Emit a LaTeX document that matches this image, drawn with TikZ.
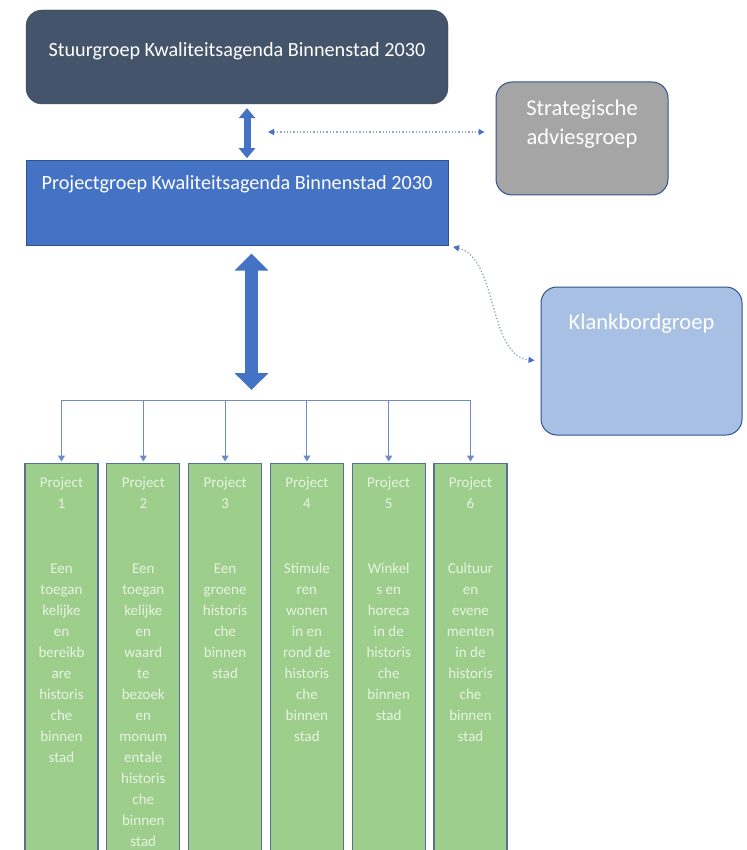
\documentclass[tikz,border=0pt]{standalone}
\usepackage{fontspec}
\setmainfont{Carlito}
\usetikzlibrary{arrows.meta, positioning, calc}
\definecolor{cNavy}{RGB}{68,84,106}
\definecolor{cBlue}{RGB}{68,114,196}
\definecolor{cEdge}{RGB}{47,82,143}
\definecolor{cGrey}{RGB}{165,165,165}
\definecolor{cLight}{RGB}{168,192,228}
\definecolor{cGreen}{RGB}{158,206,140}
\definecolor{cFrame}{RGB}{88,112,150}
\definecolor{cLine}{RGB}{108,140,198}
\definecolor{cDots}{RGB}{150,165,195}
\tikzset{
	stuurbox/.style={rectangle, rounded corners=16pt, minimum width=422pt, minimum height=94pt, draw=cNavy!80!black, fill=cNavy, text=white, text height=14pt, text depth=15pt, font=\fontsize{20.2}{24}\selectfont},
	projbox/.style ={rectangle, minimum width=422pt, minimum height=85pt, draw=cEdge, fill=cBlue, text=white, text height=14pt, text depth=40pt, font=\fontsize{20.2}{24}\selectfont},
	advbox/.style  ={rectangle, rounded corners=16pt, align=center, draw=cEdge, line width=1pt, text=white, font=\fontsize{22.5}{29}\selectfont},
	pbox/.style    ={rectangle, anchor=north, inner sep=0pt, minimum width=73pt, draw=cFrame, line width=1.2pt, fill=cGreen, text=cGreen!25!white, font=\fontsize{15}{21}\selectfont},
	blockarrow/.style={cBlue, line width=7pt, {Triangle[length=10pt, width=16pt]}-{Triangle[length=10pt, width=16pt]}},
	bigarrow/.style={cBlue, line width=13pt, {Triangle[length=17pt, width=33pt]}-{Triangle[length=17pt, width=33pt]}},
	dotarrow/.style={cDots, line width=1.3pt, dotted, {Triangle[length=6pt, width=6pt, fill=cBlue, color=cBlue]}-{Triangle[length=6pt, width=6pt, fill=cBlue, color=cBlue]}},
	treeline/.style={cLine, line width=1pt},
	treearrow/.style={treeline, -{Triangle[length=6pt, width=7pt]}},
}

\begin{document}
\begin{tikzpicture}[x=1pt, y=-1pt]
	\useasboundingbox[fill=white] (0,0) rectangle (746,850);
	% governance
	\node[stuurbox] (stuur) at (237,57) {Stuurgroep Kwaliteitsagenda Binnenstad 2030};
	\node[projbox, below=56pt of stuur] (proj) {Projectgroep Kwaliteitsagenda Binnenstad 2030};
	\node[advbox, fill=cGrey, minimum width=172pt, minimum height=113pt, text height=16pt, text depth=4pt] (stra) at (582,138.5) {Strategische\\adviesgroep};
	\node[advbox, fill=cLight, minimum width=201pt, minimum height=148pt, text height=16pt, text depth=79pt] (klank) at (641.5,361) {Klankbordgroep};
	\draw[blockarrow, shorten <=4pt, shorten >=2pt] ([xshift=10pt]stuur.south) -- ([xshift=10pt]proj.north);
	\coordinate (dotL) at (268,132);
	\draw[dotarrow, shorten >=11pt] (dotL) -- (dotL -| stra.west);
	\draw[dotarrow, shorten <=5pt, shorten >=6pt] (proj.south east) .. controls (498,258) and (488,356) .. (klank.west);
	% projects
	\node[pbox] (p1) at (61.5,463) {\parbox[c][392pt][t]{70pt}{\centering\vspace*{14pt}Project\\1\\[44pt]Een\\toegan\\kelijke\\en\\bereikb\\are\\historis\\che\\binnen\\stad}};
	\node[pbox, right=7.6pt of p1.north east, anchor=north west] (p2) {\parbox[c][392pt][t]{70pt}{\centering\vspace*{14pt}Project\\2\\[44pt]Een\\toegan\\kelijke\\en\\waard\\te\\bezoek\\en\\monum\\entale\\historis\\che\\binnen\\stad}};
	\node[pbox, right=7.6pt of p2.north east, anchor=north west] (p3) {\parbox[c][392pt][t]{70pt}{\centering\vspace*{14pt}Project\\3\\[44pt]Een\\groene\\historis\\che\\binnen\\stad}};
	\node[pbox, right=7.6pt of p3.north east, anchor=north west] (p4) {\parbox[c][392pt][t]{70pt}{\centering\vspace*{14pt}Project\\4\\[44pt]Stimule\\ren\\wonen\\in en\\rond de\\historis\\che\\binnen\\stad}};
	\node[pbox, right=7.6pt of p4.north east, anchor=north west] (p5) {\parbox[c][392pt][t]{70pt}{\centering\vspace*{14pt}Project\\5\\[44pt]Winkel\\s en\\horeca\\in de\\historis\\che\\binnen\\stad}};
	\node[pbox, right=7.6pt of p5.north east, anchor=north west] (p6) {\parbox[c][392pt][t]{70pt}{\centering\vspace*{14pt}Project\\6\\[44pt]Cultuur\\en\\evene\\menten\\in de\\historis\\che\\binnen\\stad}};
	\coordinate (bus) at (256,400);
	\draw[bigarrow, shorten <=8pt, shorten >=10pt] ([xshift=14.5pt]proj.south) -- ([xshift=14.5pt]proj.south |- bus);
	\draw[treeline] (p1.north |- bus) -- (p6.north |- bus);
	\foreach \i in {1,...,6}
		\draw[treearrow, shorten >=1.5pt] (p\i.north |- bus) -- (p\i.north);
\end{tikzpicture}
\end{document}
